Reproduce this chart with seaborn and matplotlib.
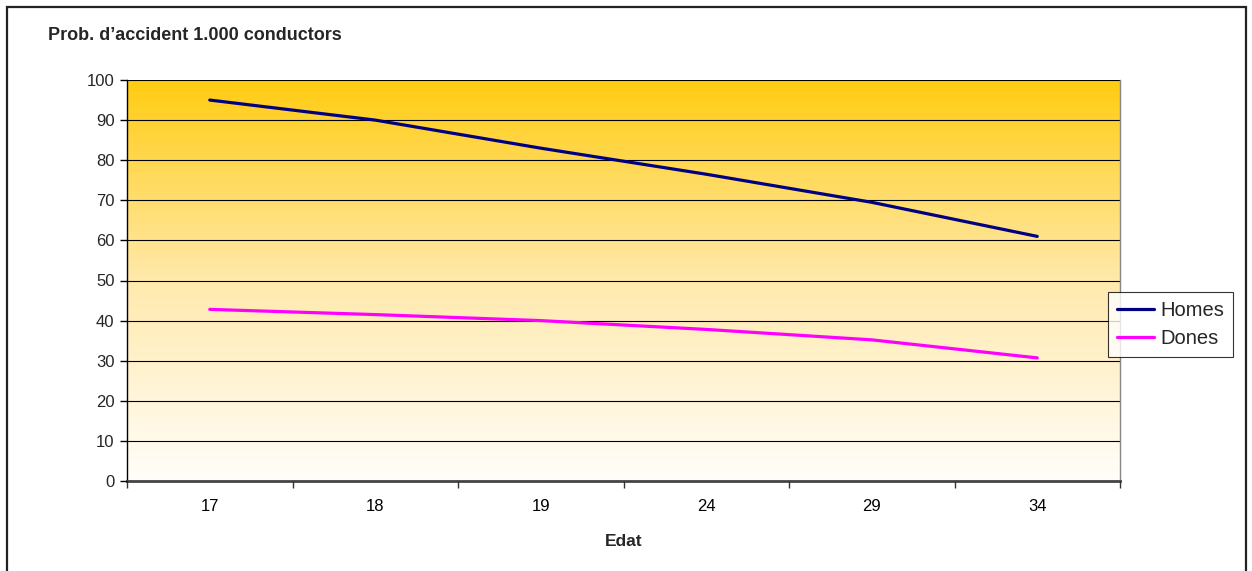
import numpy as np
import pandas as pd
import matplotlib
matplotlib.use("Agg")
import matplotlib.pyplot as plt
from matplotlib.colors import LinearSegmentedColormap
from matplotlib.patches import Rectangle
from matplotlib.lines import Line2D
import seaborn as sns

edats = ["17", "18", "19", "24", "29", "34"]
homes = [95, 90, 83, 76.5, 69.5, 61]
dones = [42.8, 41.5, 40.0, 37.8, 35.2, 30.7]
series_names = ["Homes", "Dones"]
series_colors = ["#000080", "#FF00FF"]
yticks = list(range(0, 101, 10))

df = pd.DataFrame({
    "Edat": edats * 2,
    "valor": homes + dones,
    "serie": [series_names[0]] * len(edats) + [series_names[1]] * len(edats),
})

sns.set_theme(style="white")
plt.rcParams['font.family'] = ['Liberation Sans', 'DejaVu Sans']

W, H = 1252, 571
fig = plt.figure(figsize=(W / 100, H / 100), dpi=100)
fig.patch.set_facecolor("white")
ax = fig.add_axes([127 / W, 1 - 481 / H, (1120 - 127) / W, (481 - 80) / H])

# gradient background
cmap = LinearSegmentedColormap.from_list("gold", ["#FFFEFA", "#FFE9AC", "#FFCC11"])
grad = np.linspace(0, 1, 256).reshape(-1, 1)
ax.imshow(grad, cmap=cmap, origin="lower", aspect="auto",
          extent=(-0.5, len(edats) - 0.5, 0, 100), zorder=0)

sns.lineplot(data=df, x="Edat", y="valor", hue="serie", palette=series_colors,
             linewidth=2.3, ax=ax, legend=False, zorder=3, sort=False)

ax.set_xlim(-0.5, len(edats) - 0.5)
ax.set_ylim(0, 100)
ax.set_yticks(yticks)
ax.set_yticklabels([str(t) for t in yticks], fontsize=12)
ax.set_xticks(range(len(edats)))
ax.set_xticklabels(edats, fontsize=12)
ax.set_xticks(np.arange(-0.5, len(edats), 1.0), minor=True)
ax.tick_params(axis="x", which="major", length=0, pad=13, colors="black")
ax.tick_params(axis="x", which="minor", length=5, width=1, direction="out", color="#333333", bottom=True)
ax.tick_params(axis="y", which="major", length=5, width=1, direction="out", color="black", left=True, pad=4)

for y in yticks[1:]:
    ax.axhline(y, color="black", lw=0.8, zorder=2)

ax.set_xlabel("Edat", fontsize=12.5, fontweight="bold", labelpad=14)
ax.set_ylabel("")
ax.grid(False)
ax.spines["top"].set_visible(False)
ax.spines["left"].set_color("black")
ax.spines["left"].set_linewidth(1.0)
ax.spines["bottom"].set_color("#444444")
ax.spines["bottom"].set_linewidth(2.0)
ax.spines["right"].set_color("#888888")
ax.spines["right"].set_linewidth(1.0)
ax.set_axisbelow(False)

fig.text(48 / W, 1 - 35 / H, "Prob. d\u2019accident 1.000 conductors", fontsize=13,
         fontweight="bold", va="center", ha="left")

handles = [Line2D([0], [0], color=c, lw=2.3) for c in series_colors]
leg = fig.legend(handles, series_names, loc="upper left",
                 bbox_to_anchor=(1108 / W, 1 - 292 / H), fontsize=14.5,
                 frameon=True, fancybox=False, handlelength=1.85,
                 borderpad=0.45, labelspacing=0.45, handletextpad=0.3,
                 borderaxespad=0)
leg.get_frame().set_edgecolor("black")
leg.get_frame().set_linewidth(0.8)

fig.patches.append(Rectangle((7 / W, -0.02), (1246 - 7) / W, 1.02 - 7 / H,
                             transform=fig.transFigure, fill=False,
                             edgecolor="#222222", linewidth=1.6, zorder=10))

fig.savefig("out.png", dpi=100)
